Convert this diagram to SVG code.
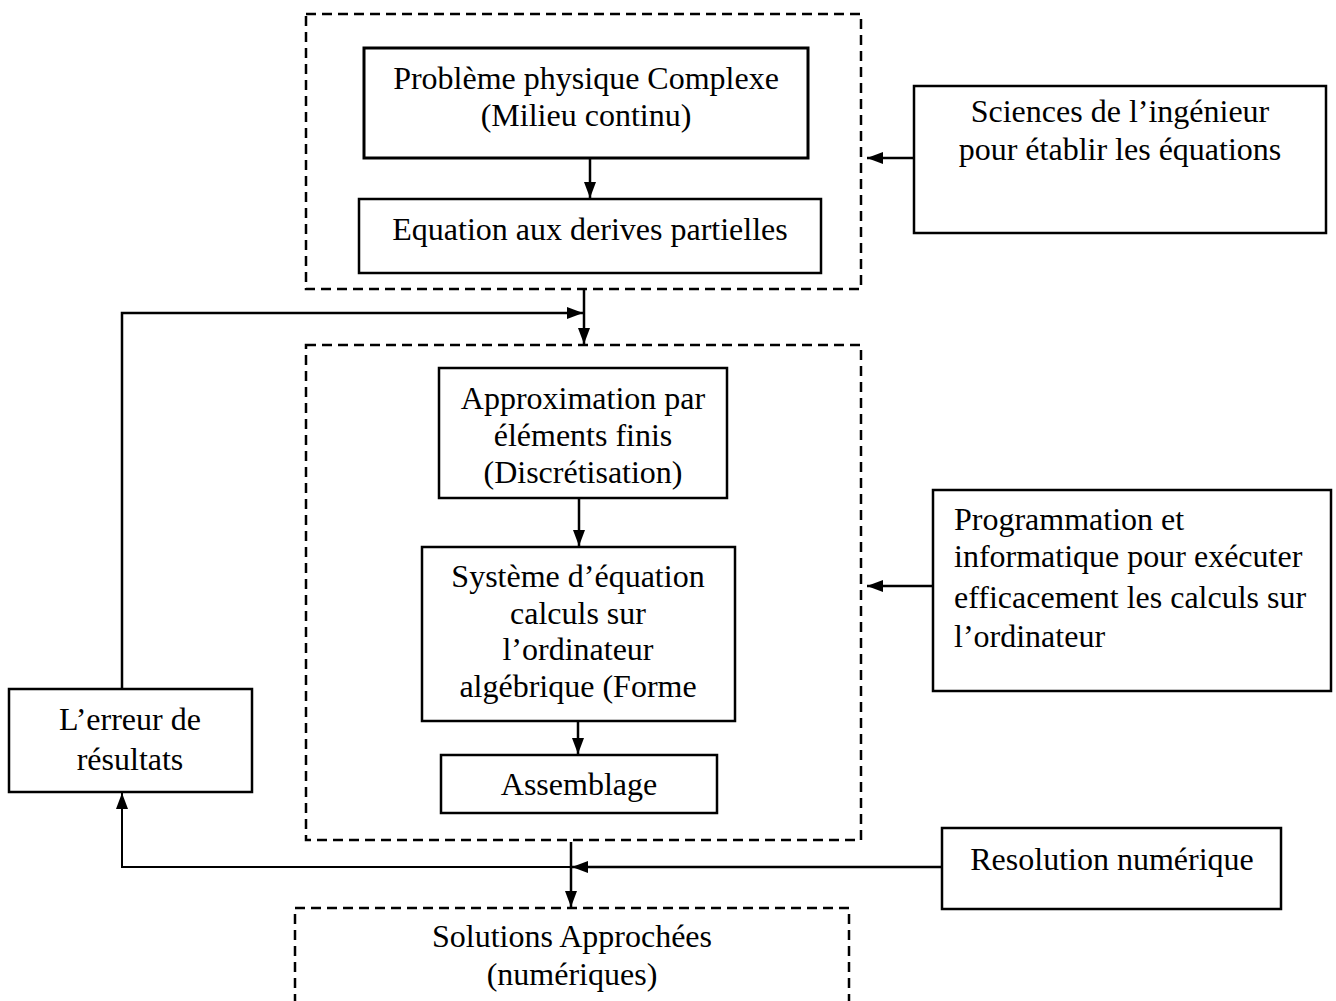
<svg xmlns="http://www.w3.org/2000/svg" width="1336" height="1001" viewBox="0 0 1336 1001">
<style>
.box{fill:#fff;stroke:#000;stroke-width:2.5}
.dash{fill:none;stroke:#000;stroke-width:2.5;stroke-dasharray:10 6}
.t{font-family:"Liberation Serif","Times New Roman",serif;font-size:32px;fill:#000}
.c{text-anchor:middle}
.ln{fill:none;stroke:#000;stroke-width:2.5}
</style>
<defs>
<marker id="ah" viewBox="0 0 16 12" refX="16" refY="6" markerWidth="16" markerHeight="12" markerUnits="userSpaceOnUse" orient="auto">
<path d="M0,0 L16,6 L0,12 z" fill="#000"/>
</marker>
</defs>
<rect width="1336" height="1001" fill="#fff"/>
<g id="group-top"><rect class="dash" x="306" y="14" width="555" height="275"/></g>
<g id="group-mid"><rect class="dash" x="306" y="345" width="555" height="495"/></g>
<g id="group-bottom"><rect class="dash" x="295" y="908" width="554" height="110"/>
<text class="t c" x="572" y="947">Solutions Approchées</text>
<text class="t c" x="572" y="985">(numériques)</text></g>
<g id="probleme"><rect class="box" x="364" y="48" width="444" height="110" style="stroke-width:3"/>
<text class="t c" x="586" y="89">Problème physique Complexe</text>
<text class="t c" x="586" y="126">(Milieu continu)</text></g>
<g id="equation"><rect class="box" x="359" y="199" width="462" height="74"/>
<text class="t c" x="590" y="240">Equation aux derives partielles</text></g>
<g id="approximation"><rect class="box" x="439" y="368" width="288" height="130"/>
<text class="t c" x="583" y="409">Approximation par</text>
<text class="t c" x="583" y="446">éléments finis</text>
<text class="t c" x="583" y="483">(Discrétisation)</text></g>
<g id="systeme"><rect class="box" x="422" y="547" width="313" height="174"/>
<text class="t c" x="578" y="587">Système d’équation</text>
<text class="t c" x="578" y="624">calculs sur</text>
<text class="t c" x="578" y="660">l’ordinateur</text>
<text class="t c" x="578" y="697">algébrique (Forme</text></g>
<g id="assemblage"><rect class="box" x="441" y="755" width="276" height="58"/>
<text class="t c" x="579" y="795">Assemblage</text></g>
<g id="sciences"><rect class="box" x="914" y="86" width="412" height="147"/>
<text class="t c" x="1120" y="122">Sciences de l’ingénieur</text>
<text class="t c" x="1120" y="160">pour établir les équations</text></g>
<g id="programmation"><rect class="box" x="933" y="490" width="398" height="201"/>
<text class="t" x="954" y="530">Programmation et</text>
<text class="t" x="954" y="567">informatique pour exécuter</text>
<text class="t" x="954" y="608">efficacement les calculs sur</text>
<text class="t" x="954" y="647">l’ordinateur</text></g>
<g id="resolution"><rect class="box" x="942" y="828" width="339" height="81"/>
<text class="t c" x="1112" y="870">Resolution numérique</text></g>
<g id="erreur"><rect class="box" x="9" y="689" width="243" height="103"/>
<text class="t c" x="130" y="730">L’erreur de</text>
<text class="t c" x="130" y="770">résultats</text></g>
<g id="connectors">
<path class="ln" d="M590,158 V198" marker-end="url(#ah)"/>
<path class="ln" d="M584,289 V344" marker-end="url(#ah)"/>
<path class="ln" d="M122,689 V313 H583" marker-end="url(#ah)"/>
<path class="ln" d="M579,498 V546" marker-end="url(#ah)"/>
<path class="ln" d="M578,721 V754" marker-end="url(#ah)"/>
<path class="ln" d="M571,842 V907" marker-end="url(#ah)"/>
<path class="ln" d="M942,867 H572" marker-end="url(#ah)"/>
<path class="ln" d="M571,867 H122 V793" marker-end="url(#ah)" style="stroke-width:2"/>
<path class="ln" d="M914,158 H867" marker-end="url(#ah)"/>
<path class="ln" d="M933,586 H867" marker-end="url(#ah)"/>
</g>
</svg>
